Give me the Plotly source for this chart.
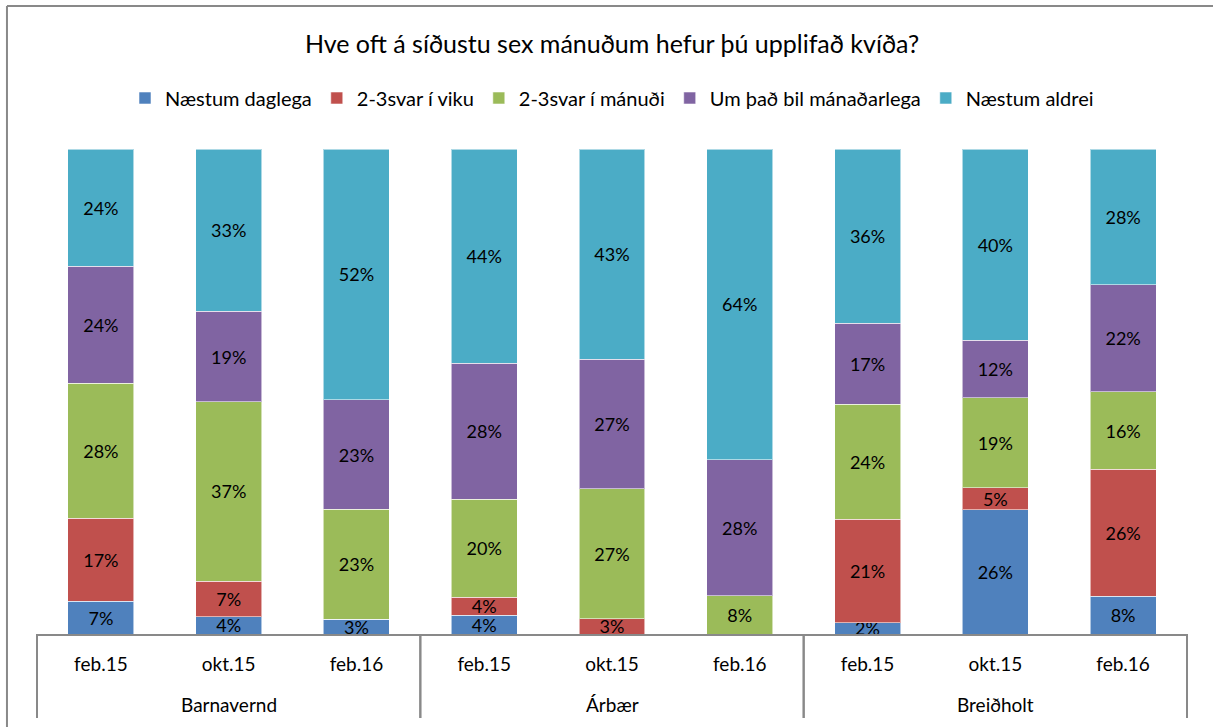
import plotly.graph_objects as go

groups = ["Barnavernd"] * 3 + ["Árbær"] * 3 + ["Breiðholt"] * 3
periods = ["feb.15", "okt.15", "feb.16"] * 3
group_names = ["Barnavernd", "Árbær", "Breiðholt"]

series_names = ["Næstum daglega", "2-3svar í viku", "2-3svar í mánuði",
                "Um það bil mánaðarlega", "Næstum aldrei"]
colors = ["#4F81BD", "#C0504D", "#9BBB59", "#8064A2", "#4BACC6"]

naestum_daglega = [6.8, 3.5, 3.0, 3.9, 0.0, 0.0, 2.3, 25.6, 7.8]
svar_viku = [17.1, 7.4, 0.0, 3.7, 3.1, 0.0, 21.4, 4.6, 26.2]
svar_manudi = [27.8, 36.9, 22.7, 20.2, 26.8, 7.9, 23.7, 18.6, 15.9]
manadarlega = [24.1, 18.6, 22.6, 28.0, 26.8, 28.0, 16.7, 11.8, 22.1]
naestum_aldrei = [24.2, 33.4, 51.8, 44.2, 43.3, 64.1, 35.9, 39.5, 28.0]

all_series = [naestum_daglega, svar_viku, svar_manudi, manadarlega, naestum_aldrei]

FONT = "Lato"
GRAY = "#898989"

keys = [f"{g} {p}" for g, p in zip(groups, periods)]

fig = go.Figure()
for name, vals, col in zip(series_names, all_series, colors):
    fig.add_trace(go.Bar(
        x=keys,
        y=vals,
        name=name,
        marker=dict(color=col, line=dict(color="rgba(255,255,255,0.55)", width=1)),
        text=[f"{v:.0f}%" if v > 0 else "" for v in vals],
        textposition="inside",
        insidetextanchor="middle",
        textangle=0,
        textfont=dict(family=FONT, size=18, color="black"),
        hoverinfo="skip",
    ))

# group labels and dividers
annotations = []
shapes = []
for gi, gname in enumerate(group_names):
    idx = [i for i, g in enumerate(groups) if g == gname]
    mid = (idx[0] + idx[-1]) / 2
    annotations.append(dict(x=mid, xref="x", y=(634 - 704) / 485, yref="paper",
                            text=gname, showarrow=False, yanchor="middle",
                            font=dict(family=FONT, size=19, color="black")))
    for edge in (idx[0] - 0.5, idx[-1] + 0.5):
        shapes.append(dict(type="line", xref="x", yref="paper", x0=edge, x1=edge,
                           y0=0, y1=(634 - 718) / 485,
                           line=dict(color=GRAY, width=2)))

# outer chart frame (top and left visible)
shapes += [
    dict(type="line", xref="paper", yref="paper", x0=-0.0252, x1=1.05, y0=1.2948, y1=1.2948,
         line=dict(color=GRAY, width=2)),
    dict(type="line", xref="paper", yref="paper", x0=-0.0252, x1=-0.0252, y0=1.2948, y1=-0.25,
         line=dict(color=GRAY, width=2)),
]

fig.update_layout(
    width=1213, height=727,
    barmode="stack",
    barnorm="percent",
    bargap=0.484,
    paper_bgcolor="white",
    plot_bgcolor="white",
    margin=dict(l=36, r=25, t=149, b=93, autoexpand=False),
    uniformtext=dict(mode="show", minsize=18),
    title=dict(text="Hve oft á síðustu sex mánuðum hefur þú upplifað kvíða?",
               x=0.5, xref="paper", xanchor="center", y=1 - 44 / 727, yanchor="middle",
               font=dict(family=FONT, size=25, color="black")),
    legend=dict(orientation="h", x=0.5, xanchor="center", y=(634 - 98) / 485, yanchor="middle",
                font=dict(family=FONT, size=20, color="black"),
                itemwidth=30, traceorder="normal"),
    showlegend=True,
    xaxis=dict(type="category", categoryorder="array", categoryarray=keys,
               tickvals=keys, ticktext=periods,
               showline=True, linecolor=GRAY, linewidth=2, ticks="",
               ticklabelstandoff=12, showgrid=False,
               tickfont=dict(family=FONT, size=19, color="black")),
    yaxis=dict(range=[0, 100], visible=False, showgrid=False),
    annotations=annotations,
    shapes=shapes,
)

fig.write_html("out.html", config={"displayModeBar": False},
               post_script="document.body.style.margin='0';document.body.style.overflow='hidden';")
